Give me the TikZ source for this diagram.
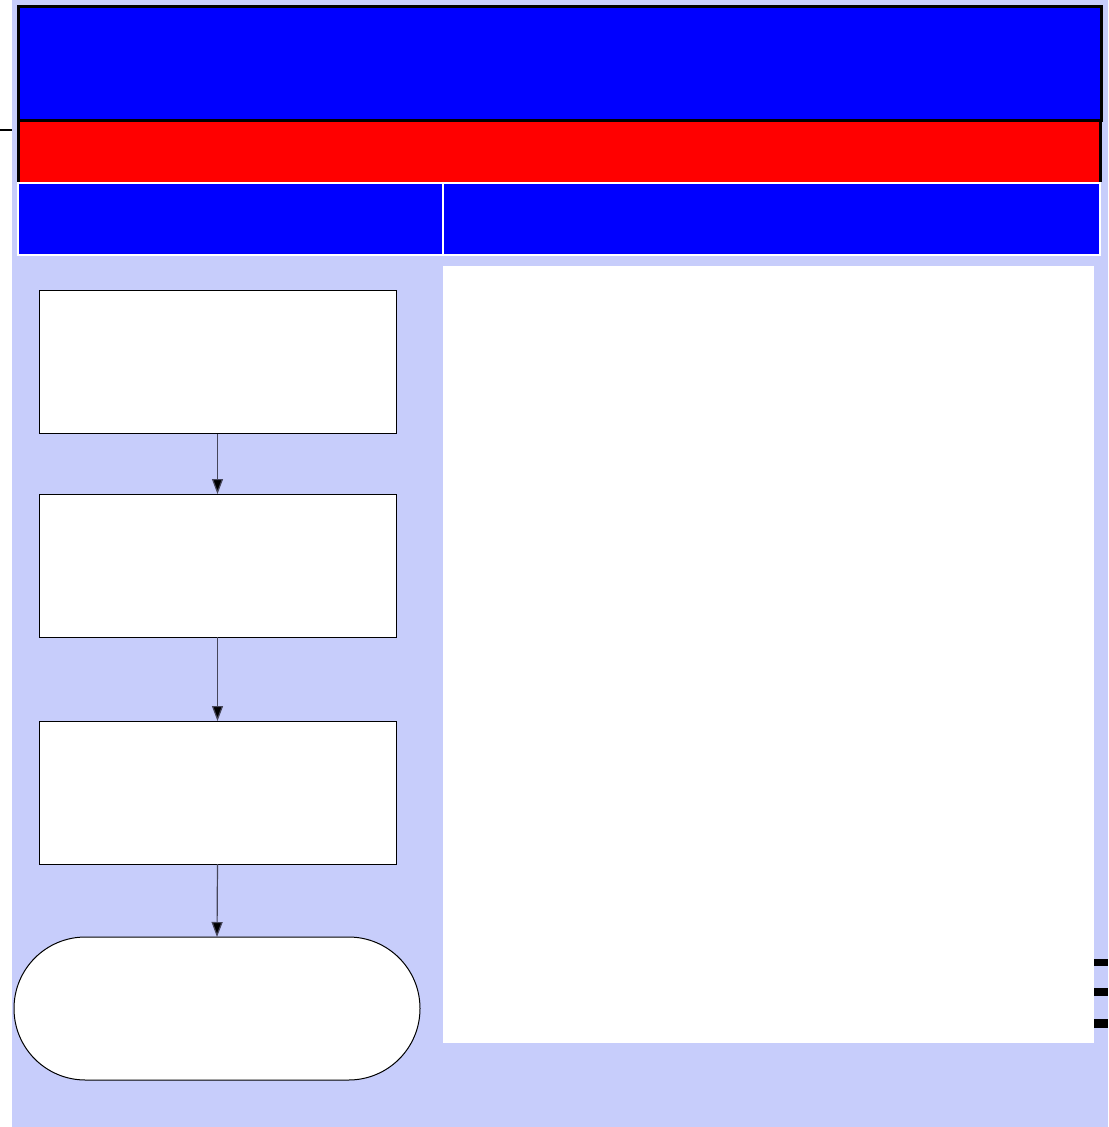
\documentclass[tikz,border=0pt]{standalone}
\usetikzlibrary{arrows.meta}
\definecolor{bgblue}{RGB}{199,205,251}
\definecolor{hdrblue}{RGB}{0,0,255}
\definecolor{hdrred}{RGB}{255,0,0}
\definecolor{arrowgray}{RGB}{70,70,90}
\begin{document}
\begin{tikzpicture}[x=0.5pt,y=-0.5pt,
  box/.style={draw=black, fill=white, line width=0.5pt, inner sep=0pt, outer sep=0pt, rectangle},
  flow/.style={box, minimum width=178.5pt, minimum height=71.5pt},
  term/.style={box, minimum width=203pt, minimum height=71.5pt, rounded corners=35.7pt},
  hdr/.style={rectangle, inner sep=0pt, outer sep=0pt},
  conn/.style={draw=arrowgray, line width=0.6pt, -{Triangle[length=7.5pt,width=5.5pt,fill=black]}},
  tick/.style={fill=black, draw=none}
]
\useasboundingbox (0,0) rectangle (1108,1127);
\fill[bgblue] (12,0) rectangle (1108,1127);
% headers
\node[hdr, fill=hdrred, minimum width=541pt, minimum height=30.5pt] (band) at (559,151.5) {};
\draw[black, line width=1.5pt] (band.south west) -- (band.north west) -- (band.north east) -- (band.south east);
\node[hdr, fill=hdrblue, draw=black, line width=1.5pt, minimum width=541.5pt, minimum height=57pt] (title) at (559.5,64) {};
\node[hdr, fill=hdrblue, draw=white, line width=1pt, minimum width=212.5pt, minimum height=36pt] (subl) at (230.5,219) {};
\node[hdr, fill=hdrblue, draw=white, line width=1pt, minimum width=328.5pt, minimum height=36pt] (subr) at (771.5,219) {};
% left stub line
\coordinate (stubA) at (0,130);
\coordinate (stubB) at (12,130);
\draw[black, line width=0.8pt] (stubA) -- (stubB);
% right panel
\node[hdr, fill=white, minimum width=325.5pt, minimum height=388.5pt] (panel) at (768.5,654.5) {};
% flow boxes
\node[flow] (b1) at (217.5,362.5) {};
\node[flow] (b2) at (217.5,565.5) {};
\node[flow] (b3) at (217.5,792.5) {};
\node[term] (t) at (217,1008.5) {};
\draw[conn] (b1.south) -- (b2.north);
\draw[conn] (b2.south) -- (b3.north);
\draw[conn] (b3.south) -- (t.north);
% right-side ticks
\fill[tick] (1094,959) rectangle (1108,966);
\fill[tick] (1094,988) rectangle (1108,996);
\fill[tick] (1094,1019) rectangle (1108,1028);
\end{tikzpicture}
\end{document}
